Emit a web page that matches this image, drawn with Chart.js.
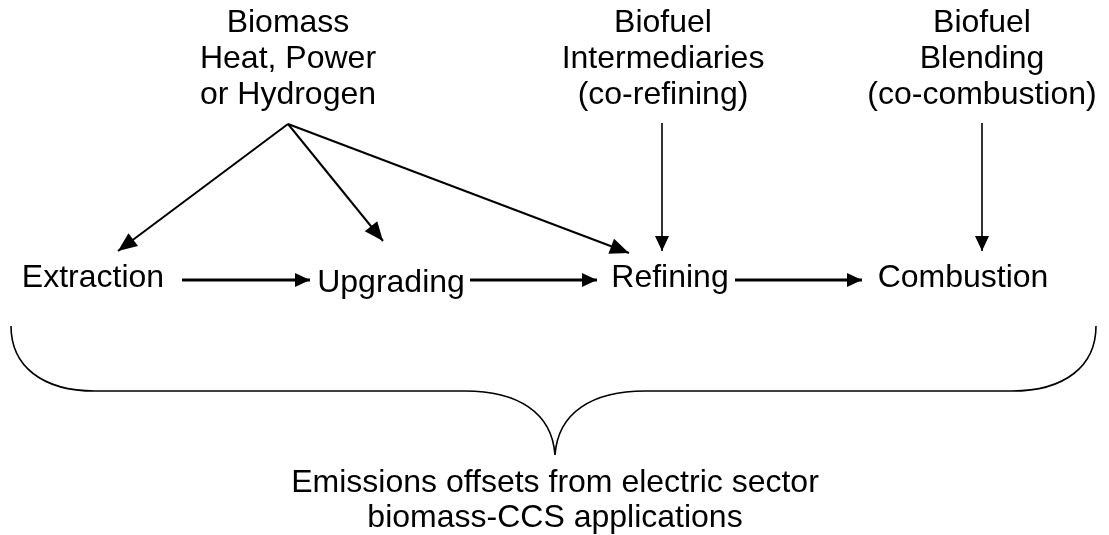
<!DOCTYPE html>
<html>
<head>
<meta charset="utf-8">
<script src="https://cdn.jsdelivr.net/npm/chart.js@4"></script>
<style>
  html, body { margin: 0; padding: 0; background: #fff; }
  #wrap { width: 1109px; height: 535px; }
</style>
</head>
<body>
<div id="wrap"><canvas id="diagram" width="1109" height="535"></canvas></div>
<script>
// Блоки сверху (источники биомассы)
const topLabels = [
    ['Biomass', 'Heat, Power', 'or Hydrogen'],
    ['Biofuel', 'Intermediaries', '(co-refining)'],
    ['Biofuel', 'Blending', '(co-combustion)']
];
const topX = [288, 663, 982];
const topLineY = [23, 59, 95];

// Этапы цепочки
const stageNames = ['Extraction', 'Upgrading', 'Refining', 'Combustion'];
const stageX = [93, 391, 670, 963];
const stageY = [278, 283, 278, 278];

// Стрелки: начало и конец (в координатах схемы)
const arrowFrom = [[288, 124], [288, 124], [288, 124], [662, 123], [982, 123], [182, 280], [470, 280], [735, 280]];
const arrowTo = [[118, 251], [383, 241], [629, 253], [662, 251], [982, 251], [310, 280], [597, 280], [862, 280]];
const arrowWidth = [2, 2, 2, 1.6, 1.6, 3, 3, 3];

// Фигурная скобка снизу
const braceLeft = [11, 326];
const braceRight = [1096, 326];
const braceTip = [555, 455];
const braceLevel = 391;

// Подпись под скобкой
const footerLines = ['Emissions offsets from electric sector', 'biomass-CCS applications'];
const footerY = [483, 518];

const FONT = '32px "Liberation Sans", Arial, sans-serif';

const datasets = arrowFrom.map((from, i) => ({
    data: [{ x: from[0], y: from[1] }, { x: arrowTo[i][0], y: arrowTo[i][1] }],
    showLine: true,
    borderColor: '#000',
    borderWidth: arrowWidth[i],
    pointRadius: 0,
    fill: false
}));

const diagramPlugin = {
    id: 'diagram',
    afterDatasetsDraw(chart) {
        const ctx = chart.ctx;
        const sx = chart.scales.x;
        const sy = chart.scales.y;
        const px = v => sx.getPixelForValue(v);
        const py = v => sy.getPixelForValue(v);

        ctx.save();
        ctx.fillStyle = '#000';
        ctx.strokeStyle = '#000';

        // Наконечники стрелок
        chart.data.datasets.forEach((ds, i) => {
            const pts = chart.getDatasetMeta(i).data;
            const a = pts[0], b = pts[pts.length - 1];
            const ang = Math.atan2(b.y - a.y, b.x - a.x);
            const diag = a.x !== b.x && a.y !== b.y;
            const len = diag ? 19 : 15;
            const half = diag ? 8 : 7;
            ctx.beginPath();
            ctx.moveTo(b.x, b.y);
            ctx.lineTo(b.x - len * Math.cos(ang) + half * Math.sin(ang), b.y - len * Math.sin(ang) - half * Math.cos(ang));
            ctx.lineTo(b.x - len * Math.cos(ang) - half * Math.sin(ang), b.y - len * Math.sin(ang) + half * Math.cos(ang));
            ctx.closePath();
            ctx.fill();
        });

        // Тексты
        ctx.font = FONT;
        ctx.textAlign = 'center';
        ctx.textBaseline = 'middle';
        topLabels.forEach((lines, i) => {
            lines.forEach((t, j) => ctx.fillText(t, px(topX[i]), py(topLineY[j])));
        });
        stageNames.forEach((t, i) => ctx.fillText(t, px(stageX[i]), py(stageY[i])));
        footerLines.forEach((t, i) => ctx.fillText(t, px(braceTip[0]), py(footerY[i])));

        // Скобка
        const tx = braceTip[0], ty = braceTip[1];
        ctx.lineWidth = 1.6;
        ctx.beginPath();
        ctx.moveTo(px(braceLeft[0]), py(braceLeft[1]));
        ctx.bezierCurveTo(px(braceLeft[0]), py(366), px(42), py(braceLevel), px(95), py(braceLevel));
        ctx.lineTo(px(tx - 90), py(braceLevel));
        ctx.bezierCurveTo(px(tx - 38), py(braceLevel), px(tx - 3), py(412), px(tx), py(ty));
        ctx.bezierCurveTo(px(tx + 3), py(412), px(tx + 38), py(braceLevel), px(tx + 90), py(braceLevel));
        ctx.lineTo(px(braceRight[0] - 84), py(braceLevel));
        ctx.bezierCurveTo(px(braceRight[0] - 31), py(braceLevel), px(braceRight[0]), py(366), px(braceRight[0]), py(braceRight[1]));
        ctx.stroke();
        ctx.restore();
    }
};

new Chart(document.getElementById('diagram').getContext('2d'), {
    type: 'scatter',
    data: { datasets: datasets },
    options: {
        responsive: false,
        animation: false,
        layout: { padding: 0 },
        plugins: { legend: { display: false }, tooltip: { enabled: false } },
        scales: {
            x: { type: 'linear', min: 0, max: 1109, display: false },
            y: { type: 'linear', min: 0, max: 535, reverse: true, display: false }
        }
    },
    plugins: [diagramPlugin]
});
</script>
</body>
</html>
